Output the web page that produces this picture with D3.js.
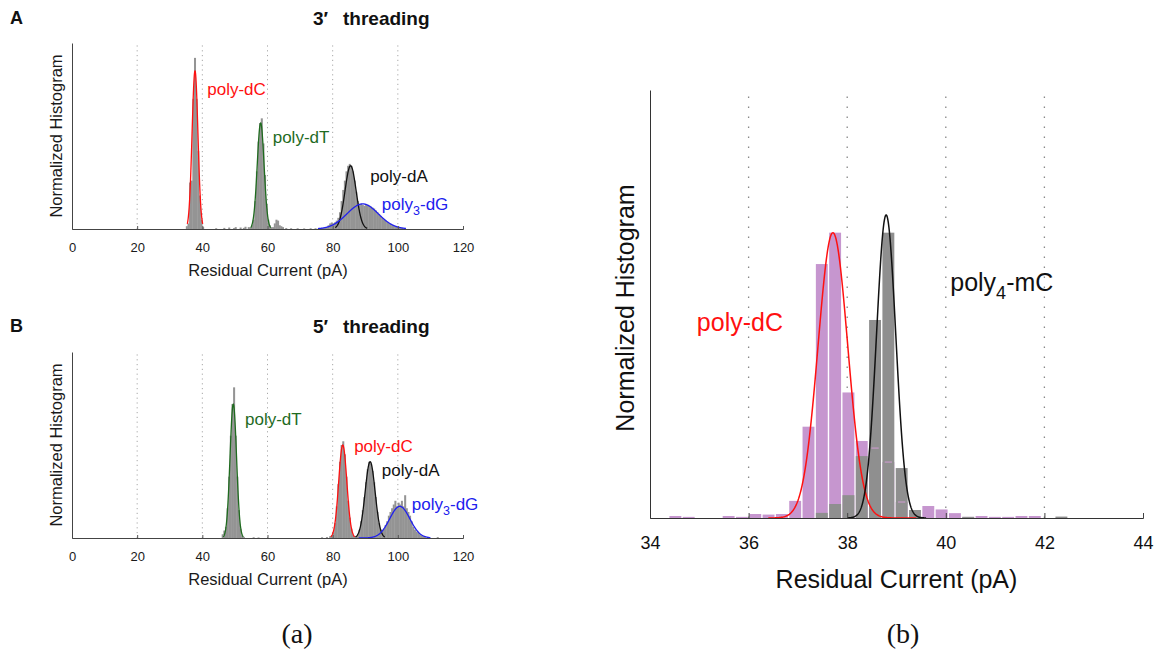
<!DOCTYPE html>
<html><head><meta charset="utf-8">
<script src="https://cdnjs.cloudflare.com/ajax/libs/d3/7.8.5/d3.min.js"></script>
<style>
html,body{margin:0;padding:0;background:#fff;}
svg{display:block;}
</style></head>
<body>
<svg id="fig" width="1168" height="653"></svg>
<script>
// ================= DATA =================
// ---- (a) small panels A (3' threading) and B (5' threading) ----
const xTicksA = [0, 20, 40, 60, 80, 100, 120];
const gridA = [20, 40, 60, 80, 100];
const binWA = 0.5;
// histogram bins: [bin start (pA), normalized height]
const hist3 = [
  [35.0,0.015],[35.5,0.03],[36.0,0.25],[36.5,0.26],[37.0,0.70],[37.5,0.92],[38.0,0.70],[38.5,0.42],[39.0,0.18],[39.5,0.05],[40.0,0.01],
  [44.0,0.004],[46.5,0.006],[48.0,0.008],[49.5,0.005],[50.0,0.01],[51.5,0.008],[52.5,0.006],[53.0,0.012],[54.0,0.01],[54.5,0.008],
  [55.0,0.02],[55.5,0.05],[56.0,0.15],[56.5,0.31],[57.0,0.47],[57.5,0.57],[58.0,0.595],[58.5,0.46],[59.0,0.29],[59.5,0.13],[60.0,0.05],[60.5,0.02],
  [61.0,0.01],[61.5,0.01],[62.0,0.03],[62.5,0.05],[63.0,0.045],[63.5,0.02],[64.0,0.015],[64.5,0.01],[65.5,0.005],[67.0,0.004],[69.0,0.004],[71.0,0.003],[73.0,0.004],[74.5,0.004],[75.5,0.005],
  [76.0,0.004],[76.5,0.005],[77.0,0.006],[77.5,0.008],[78.0,0.01],[78.5,0.02],[79.0,0.03],[79.5,0.035],[80.0,0.03],[80.5,0.036],[81.0,0.045],[81.5,0.06],
  [82.0,0.09],[82.5,0.15],[83.0,0.21],[83.5,0.26],[84.0,0.31],[84.5,0.34],[85.0,0.35],[85.5,0.34],[86.0,0.31],[86.5,0.26],[87.0,0.20],[87.5,0.15],
  [88.0,0.13],[88.5,0.135],[89.0,0.13],[89.5,0.125],[90.0,0.132],[90.5,0.13],[91.0,0.125],[91.5,0.12],[92.0,0.115],[92.5,0.11],[93.0,0.10],[93.5,0.09],
  [94.0,0.08],[94.5,0.07],[95.0,0.06],[95.5,0.052],[96.0,0.045],[96.5,0.038],[97.0,0.032],[97.5,0.027],[98.0,0.022],[98.5,0.018],[99.0,0.015],[99.5,0.012],
  [100.0,0.01],[100.5,0.008],[101.0,0.006],[101.5,0.004]
];
const hist5 = [
  [46.0,0.02],[46.5,0.04],[47.0,0.06],[47.5,0.16],[48.0,0.33],[48.5,0.55],[49.0,0.72],[49.5,0.81],[50.0,0.55],[50.5,0.33],[51.0,0.15],[51.5,0.05],[52.0,0.015],[52.5,0.006],
  [55.5,0.004],[57.0,0.003],[76.5,0.004],[78.0,0.005],[79.0,0.01],[79.5,0.015],
  [80.0,0.03],[80.5,0.08],[81.0,0.17],[81.5,0.29],[82.0,0.41],[82.5,0.50],[83.0,0.52],[83.5,0.45],[84.0,0.33],[84.5,0.20],[85.0,0.11],[85.5,0.05],[86.0,0.02],[86.5,0.01],
  [87.0,0.01],[87.5,0.02],[88.0,0.045],[88.5,0.09],[89.0,0.15],[89.5,0.22],[90.0,0.30],[90.5,0.37],[91.0,0.41],[91.5,0.40],[92.0,0.36],[92.5,0.30],[93.0,0.22],[93.5,0.14],[94.0,0.08],[94.5,0.045],
  [95.0,0.04],[95.5,0.05],[96.0,0.07],[96.5,0.09],[97.0,0.12],[97.5,0.14],[98.0,0.16],[98.5,0.18],[99.0,0.20],[99.5,0.17],[100.0,0.19],[100.5,0.18],[101.0,0.20],[101.5,0.17],
  [102.0,0.23],[102.5,0.16],[103.0,0.14],[103.5,0.12],[104.0,0.09],[104.5,0.06],[105.0,0.045],[105.5,0.035],[106.0,0.03],[106.5,0.02],[107.0,0.015],[107.5,0.01],[108.0,0.008],[109.0,0.005],[112.0,0.005]
];
// fit curves (Gaussian fits): order poly-dC, poly-dT, poly-dA, poly3-dG
const fitNames = [["poly","","-dC"],["poly","","-dT"],["poly","","-dA"],["poly","3","-dG"]];
const fitColors = ["#ff1010","#1f6b1f","#111111","#2020ee"];
const fit3Mu = [37.75, 57.9, 85.5, 89.2];
const fit3Sigma = [0.9, 1.05, 1.7, 4.8];
const fit3Amp = [0.85, 0.57, 0.34, 0.135];
const fit3Range = [[35.4,40.1],[54.8,61.0],[80.8,90.6],[75.5,102.5]];
const label3X = [41.5, 61.6, 91.5, 95.1];
const label3Y = [0.722, 0.462, 0.255, 0.104];
const fit5Mu = [83.1, 49.5, 91.5, 100.6];
const fit5Sigma = [1.25, 1.0, 1.53, 3.1];
const fit5Amp = [0.5, 0.72, 0.41, 0.17];
const fit5Range = [[79.4,86.8],[46.4,52.6],[87.0,96.0],[88.0,110.0]];
const label5X = [86.6, 53.1, 95.1, 104.3];
const label5Y = [0.465, 0.608, 0.331, 0.152];

// ---- (b) poly-dC vs poly4-mC ----
const xTicksB = [34, 36, 38, 40, 42, 44];
const gridB = [36, 38, 40, 42];
const binWB = 0.27;
const binStartsB = [34.38,34.65,34.92,35.19,35.46,35.73,36.00,36.27,36.54,36.81,37.08,37.35,37.62,37.89,38.16,38.43,38.70,38.97,39.24,39.51,39.78,40.05,40.32,40.59,40.86,41.13,41.40,41.67,41.94,42.21,42.48];
const histDC = [0.007,0.004,0,0,0.007,0.004,0.014,0.012,0.014,0.06,0.32,0.89,1.0,0.44,0.27,0.245,0.196,0.056,0.014,0.042,0.03,0.017,0.004,0.007,0.004,0.004,0.007,0.007,0,0,0];
const histMC = [0,0,0,0,0,0,0,0,0,0,0,0.018,0.049,0.08,0.217,0.694,1.0,0.175,0.028,0,0,0,0.004,0,0,0,0,0,0,0.005,0];
const fitBNames = [["poly","","-dC"],["poly","4","-mC"]];
const fitBColors = ["#ff1010","#111111"];
const fitBMu = [37.71, 38.79];
const fitBSigma = [0.30, 0.195];
const fitBAmp = [1.0, 1.062];
const fitBRange = [[36.4,39.4],[38.0,39.6]];
const labelBX = [34.95, 40.09];
const labelBY = [0.654, 0.796];

// ================= DRAW =================
const FONT = '"Liberation Sans", Arial, Helvetica, sans-serif';
const svg = d3.select("#fig").style("font-family", FONT);

function gaussPts(mu, s, a, lo, hi) {
  const n = 240, pts = [];
  for (let i = 0; i <= n; i++) {
    const x = lo + (hi - lo) * i / n;
    pts.push([x, a * Math.exp(-((x - mu) * (x - mu)) / (2 * s * s))]);
  }
  return pts;
}

function addLabel(g, px, py, parts, color, size, subSize, subDy) {
  const t = g.append("text").attr("x", px).attr("y", py).attr("fill", color)
    .style("font-size", size + "px");
  t.append("tspan").text(parts[0]);
  if (parts[1]) {
    t.append("tspan").attr("dy", subDy).style("font-size", subSize + "px").text(parts[1]);
    t.append("tspan").attr("dy", -subDy).text(parts[2]);
  } else {
    t.append("tspan").text(parts[2]);
  }
}

function smallPanel(o) {
  const g = svg.append("g");
  const x = d3.scaleLinear().domain([0, 120]).range([72, 463]);
  const y = d3.scaleLinear().domain([0, 1]).range([o.base, o.top]);
  // dotted grid
  g.selectAll("line.grid").data(gridA).join("line")
    .attr("x1", d => x(d)).attr("x2", d => x(d))
    .attr("y1", y(0)).attr("y2", y(1))
    .attr("stroke", "#a8a8a8").attr("stroke-width", 1).attr("stroke-dasharray", "1.2,3.6");
  // histogram
  g.selectAll("rect.h").data(o.hist).join("rect")
    .attr("x", d => x(d[0]) - 0.2)
    .attr("width", d => x(d[0] + binWA) - x(d[0]) + 0.4)
    .attr("y", d => y(d[1]))
    .attr("height", d => y(0) - y(d[1]))
    .attr("fill", "#949494");
  // fits
  const line = d3.line().x(d => x(d[0])).y(d => y(d[1]));
  o.mu.forEach((m, i) => {
    g.append("path").attr("d", line(gaussPts(m, o.sigma[i], o.amp[i], o.range[i][0], o.range[i][1])))
      .attr("fill", "none").attr("stroke", fitColors[i]).attr("stroke-width", 1.3);
  });
  // axes
  const ax = g.append("g").attr("transform", `translate(0,${o.base})`)
    .call(d3.axisBottom(x).tickValues(xTicksA).tickSize(-3).tickFormat(d3.format("d")));
  ax.attr("font-family", FONT).attr("font-size", 13);
  ax.select(".domain").attr("stroke", "#444");
  ax.selectAll(".tick line").attr("stroke", "#555");
  ax.selectAll(".tick text").attr("y", 22.5).attr("dy", null).attr("fill", "#1a1a1a");
  const ay = g.append("g").attr("transform", `translate(72,0)`)
    .call(d3.axisLeft(y).tickValues([]).tickSizeOuter(0));
  ay.select(".domain").attr("stroke", "#444");
  // labels
  o.lx.forEach((lx, i) => addLabel(g, x(lx), y(o.ly[i]), fitNames[i], fitColors[i], 17, 12.5, 5));
  // axis titles
  g.append("text").attr("x", 268).attr("y", o.base + 47).attr("text-anchor", "middle")
    .attr("fill", "#1a1a1a").style("font-size", "16.5px").text("Residual Current (pA)");
  g.append("text").attr("transform", `translate(62,${(o.base + o.top) / 2}) rotate(-90)`)
    .attr("text-anchor", "middle").attr("fill", "#1a1a1a").style("font-size", "16.5px").text("Normalized Histogram");
  // panel letter + title
  g.append("text").attr("x", 10).attr("y", o.titleY - 1).style("font-size", "18px").style("font-weight", "bold").attr("fill", "#111").text(o.letter);
  const tt = g.append("text").attr("x", 313).attr("y", o.titleY).style("font-size", "19px").style("font-weight", "bold").attr("fill", "#111");
  tt.append("tspan").text(o.prime);
  tt.append("tspan").attr("x", 343).text("threading");
}

smallPanel({top: 43, base: 229, hist: hist3, mu: fit3Mu, sigma: fit3Sigma, amp: fit3Amp, range: fit3Range,
  lx: label3X, ly: label3Y, letter: "A", prime: "3\u2032", titleY: 25});
smallPanel({top: 352, base: 538, hist: hist5, mu: fit5Mu, sigma: fit5Sigma, amp: fit5Amp, range: fit5Range,
  lx: label5X, ly: label5Y, letter: "B", prime: "5\u2032", titleY: 333});

// ---- panel (b) ----
(function () {
  const g = svg.append("g");
  const x = d3.scaleLinear().domain([34, 44]).range([650, 1143]);
  const y = d3.scaleLinear().domain([0, 1.5]).range([518, 90]);
  g.selectAll("line.grid").data(gridB).join("line")
    .attr("x1", d => x(d)).attr("x2", d => x(d))
    .attr("y1", y(0)).attr("y2", y(1.5))
    .attr("stroke", "#888").attr("stroke-width", 1.3).attr("stroke-dasharray", "1.5,8.5");
  const bars = binStartsB.map((s, i) => ({s, dc: histDC[i], mc: histMC[i]}));
  g.selectAll("rect.dc").data(bars.filter(d => d.dc > 0)).join("rect")
    .attr("x", d => x(d.s) + 0.7).attr("width", d => x(d.s + binWB) - x(d.s) - 1.4)
    .attr("y", d => y(d.dc)).attr("height", d => y(0) - y(d.dc))
    .attr("fill", "#c696cf");
  g.selectAll("rect.mc").data(bars.filter(d => d.mc > 0)).join("rect")
    .attr("x", d => x(d.s) + 0.7).attr("width", d => x(d.s + binWB) - x(d.s) - 1.4)
    .attr("y", d => y(d.mc)).attr("height", d => y(0) - y(d.mc))
    .attr("fill", "#8f8f8f");
  // purple bar tops seen through the grey bars
  g.selectAll("line.top").data(bars.filter(d => d.mc > d.dc && d.dc > 0.03)).join("line")
    .attr("x1", d => x(d.s) + 3).attr("x2", d => x(d.s + binWB) - 3)
    .attr("y1", d => y(d.dc)).attr("y2", d => y(d.dc))
    .attr("stroke", "#c79ac9").attr("stroke-width", 1.2);
  const line = d3.line().x(d => x(d[0])).y(d => y(d[1]));
  fitBMu.forEach((m, i) => {
    g.append("path").attr("d", line(gaussPts(m, fitBSigma[i], fitBAmp[i], fitBRange[i][0], fitBRange[i][1])))
      .attr("fill", "none").attr("stroke", fitBColors[i]).attr("stroke-width", 1.5);
  });
  const ax = g.append("g").attr("transform", "translate(0,518)")
    .call(d3.axisBottom(x).tickValues(xTicksB).tickSize(-5).tickFormat(d3.format("d")));
  ax.attr("font-family", FONT).attr("font-size", 18);
  ax.select(".domain").attr("stroke", "#333");
  ax.selectAll(".tick line").attr("stroke", "#444");
  ax.selectAll(".tick text").attr("y", 30.5).attr("dy", null).attr("fill", "#111");
  const ay = g.append("g").attr("transform", "translate(650,0)")
    .call(d3.axisLeft(y).tickValues([]).tickSizeOuter(0));
  ay.select(".domain").attr("stroke", "#333");
  labelBX.forEach((lx, i) => addLabel(g, x(lx), y(labelBY[i]), fitBNames[i], fitBColors[i], 25, 18, 8));
  g.append("text").attr("x", 896.5).attr("y", 588).attr("text-anchor", "middle")
    .attr("fill", "#111").style("font-size", "25px").text("Residual Current (pA)");
  g.append("text").attr("transform", "translate(634,308) rotate(-90)")
    .attr("text-anchor", "middle").attr("fill", "#111").style("font-size", "25px").text("Normalized Histogram");
})();

// captions
svg.append("text").attr("x", 297).attr("y", 643).attr("text-anchor", "middle")
  .style("font-family", '"Liberation Serif", "DejaVu Serif", serif').style("font-size", "28px").attr("fill", "#111").text("(a)");
svg.append("text").attr("x", 903).attr("y", 643).attr("text-anchor", "middle")
  .style("font-family", '"Liberation Serif", "DejaVu Serif", serif').style("font-size", "28px").attr("fill", "#111").text("(b)");
</script>
</body></html>
